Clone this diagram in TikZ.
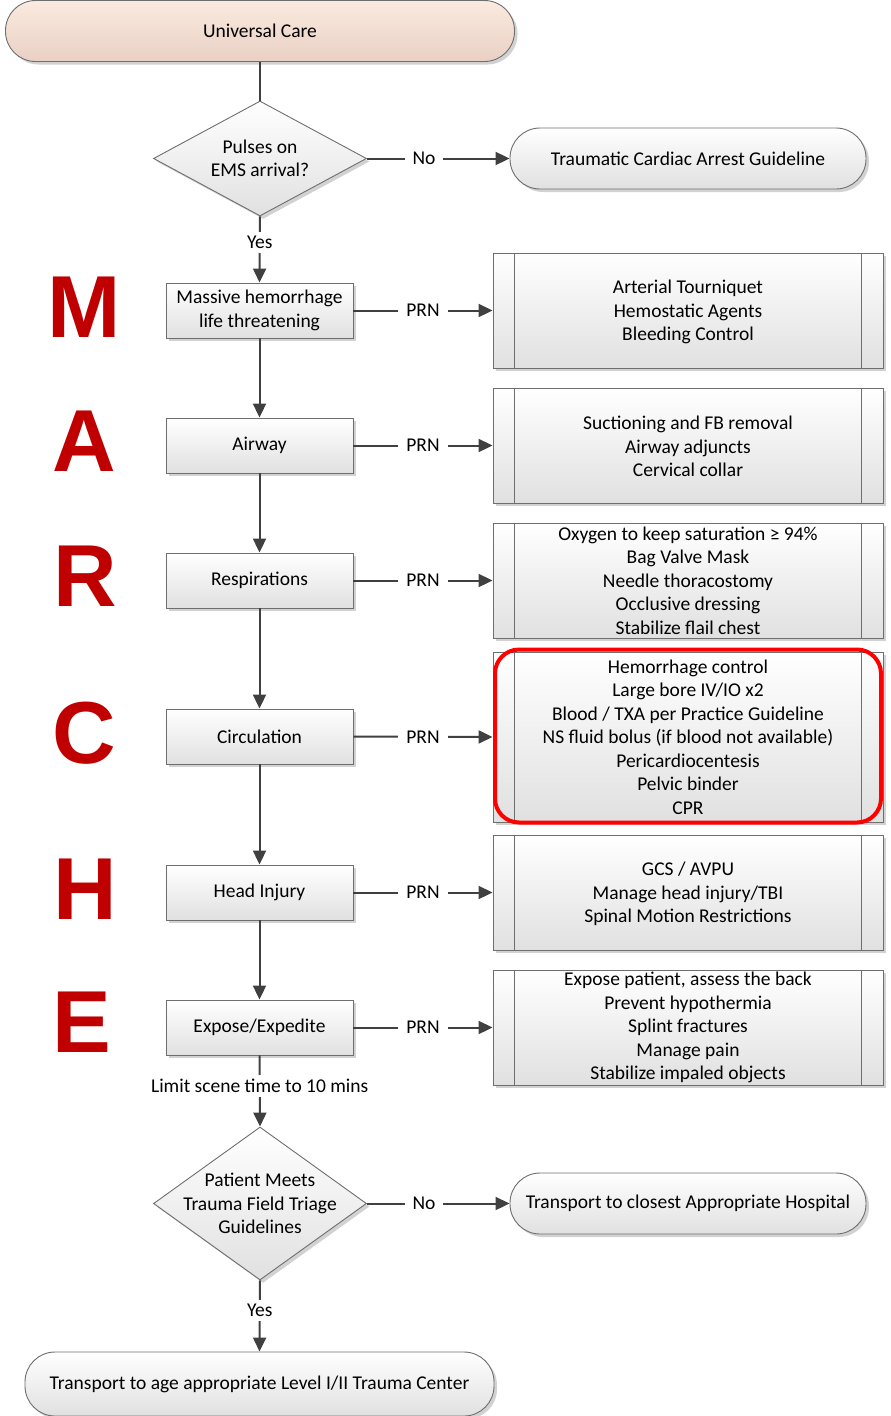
\documentclass[tikz,border=0pt]{standalone}
\usepackage{fontspec}
\setmainfont{Carlito}
\setsansfont{Liberation Sans}
\usetikzlibrary{shapes.geometric,arrows.meta,shadows,calc}
\definecolor{ln}{HTML}{404040}
\definecolor{bd}{HTML}{6E6E6E}
\definecolor{mred}{HTML}{C00000}
\tikzset{
  every node/.style={font=\fontsize{19.5}{23.5}\selectfont, text=black},
  shd/.style={drop shadow={shadow xshift=3pt, shadow yshift=-3pt, fill=black!35, opacity=0.5}},
  gray fill/.style={top color=white, bottom color=black!12},
  procbox/.style={rectangle, draw=bd, line width=0.9pt, gray fill, shd, minimum width=187pt, minimum height=55pt, inner sep=0pt, align=center},
  prebox/.style={rectangle, draw=bd, line width=0.9pt, gray fill, shd, minimum width=390pt, minimum height=115pt, inner sep=0pt},
  termbox/.style={rectangle, draw=bd, line width=0.9pt, rounded corners=30pt, gray fill, shd, minimum height=61pt, inner sep=0pt},
  decbox/.style={diamond, draw=bd, line width=0.9pt, gray fill, shd, inner sep=0pt},
  ptext/.style={align=center, inner sep=0pt},
  conn/.style={draw=ln, line width=2pt},
  arr/.style={conn, -{Triangle[length=14pt,width=13pt]}},
  lbl/.style={fill=white, inner xsep=8pt, inner ysep=4pt},
  letter/.style={font=\fontsize{88}{88}\sffamily\bfseries\selectfont, text=mred, inner sep=0pt},
  redbox/.style={draw=red, line width=4pt, rounded corners=24pt, minimum width=386pt, minimum height=173pt, inner sep=0pt},
}
\newcommand{\prelines}[1]{%
  \draw[draw=bd, line width=0.9pt] ($(#1.north west)+(22,0)$) -- ($(#1.south west)+(22,0)$);
  \draw[draw=bd, line width=0.9pt] ($(#1.north east)+(-22,0)$) -- ($(#1.south east)+(-22,0)$);}
\begin{document}
\begin{tikzpicture}[x=1pt,y=-1pt]
\useasboundingbox (0,0) rectangle (891,1416);
% terminators
\node[termbox, minimum width=509pt, top color={rgb,255:red,251;green,234;blue,223}, bottom color={rgb,255:red,233;green,208;blue,196}] (uc) at (260,31) {Universal Care};
\node[termbox, minimum width=356pt] (tca) at (688,158.5) {Traumatic Cardiac Arrest Guideline};
\node[termbox, minimum width=356pt] (tch) at (688,1203.5) {Transport to closest Appropriate Hospital};
\node[termbox, minimum width=469pt, minimum height=64pt] (tlv) at (259.5,1384) {Transport to age appropriate Level I/II Trauma Center};
% decisions
\node[decbox, minimum width=213pt, minimum height=115pt] (d1) at (260,158.5) {};
\node[ptext] (d1t) at (d1.center) {Pulses on\\EMS arrival?};
\node[decbox, minimum width=213pt, minimum height=153pt] (d2) at (260,1203.5) {};
\node[ptext] (d2t) at (d2.center) {Patient Meets\\Trauma Field Triage\\Guidelines};
% processes
\node[procbox] (m) at (259.5,310.5) {Massive hemorrhage\\life threatening};
\node[procbox] (a) at (259.5,445.5) {Airway};
\node[procbox] (r) at (259.5,580.5) {Respirations};
\node[procbox] (c) at (259.5,736.5) {Circulation};
\node[procbox] (h) at (259.5,892.5) {Head Injury};
\node[procbox] (e) at (259.5,1027.5) {Expose/Expedite};
% predefined
\node[prebox] (pm) at (688,310.5) {}; \prelines{pm}
\node[ptext] at ([yshift=-1.5pt]pm.center) {Arterial Tourniquet\\Hemostatic Agents\\Bleeding Control};
\node[prebox] (pa) at (688,445.5) {}; \prelines{pa}
\node[ptext] at ([yshift=-1pt]pa.center) {Suctioning and FB removal\\Airway adjuncts\\Cervical collar};
\node[prebox] (pr) at (688,580.5) {}; \prelines{pr}
\node[ptext] at (pr.center) {Oxygen to keep saturation ≥ 94\%\\Bag Valve Mask\\Needle thoracostomy\\Occlusive dressing\\Stabilize flail chest};
\node[prebox, minimum height=170pt] (pc) at (688,737) {}; \prelines{pc}
\node[ptext] at (pc.center) {Hemorrhage control\\Large bore IV/IO x2\\Blood / TXA per Practice Guideline\\NS fluid bolus (if blood not available)\\Pericardiocentesis\\Pelvic binder\\CPR};
\node[redbox] (rb) at (688,736) {};
\node[prebox] (ph) at (688,892.5) {}; \prelines{ph}
\node[ptext] at ([yshift=-1.5pt]ph.center) {GCS / AVPU\\Manage head injury/TBI\\Spinal Motion Restrictions};
\node[prebox] (pe) at (688,1027.5) {}; \prelines{pe}
\node[ptext] at (pe.center) {Expose patient, assess the back\\Prevent hypothermia\\Splint fractures\\Manage pain\\Stabilize impaled objects};
% MARCHE letters
\node[letter] (lm) at (84,307) {M};
\node[letter] (la) at (84,441) {A};
\node[letter] (lr) at (85,576) {R};
\node[letter] (lc) at (84,733) {C};
\node[letter] (lh) at (85,889) {H};
\node[letter] (le) at (82,1022) {E};
% connectors
\draw[conn] (uc.south) -- (d1.north);
\draw[arr] (d1.east) -- node[lbl, pos=0.4] {No} (tca.west);
\draw[arr] (d1.south) -- node[lbl, pos=0.39] {Yes} (m.north);
\draw[arr] (m.south) -- (a.north);
\draw[arr] (a.south) -- (r.north);
\draw[arr] (r.south) -- (c.north);
\draw[arr] (c.south) -- (h.north);
\draw[arr] (h.south) -- (e.north);
\draw[arr] (e.south) -- node[lbl, pos=0.43] {Limit scene time to 10 mins} (d2.north);
\draw[arr] (d2.east) -- node[lbl, pos=0.4] {No} (tch.west);
\draw[arr] (d2.south) -- node[lbl, pos=0.42] {Yes} (tlv.north);
\draw[arr] (m.east) -- node[lbl] {PRN} (pm.west);
\draw[arr] (a.east) -- node[lbl] {PRN} (pa.west);
\draw[arr] (r.east) -- node[lbl] {PRN} (pr.west);
\draw[arr] (c.east) -- node[lbl] {PRN} (pc.west);
\draw[arr] (h.east) -- node[lbl] {PRN} (ph.west);
\draw[arr] (e.east) -- node[lbl] {PRN} (pe.west);
\end{tikzpicture}
\end{document}
